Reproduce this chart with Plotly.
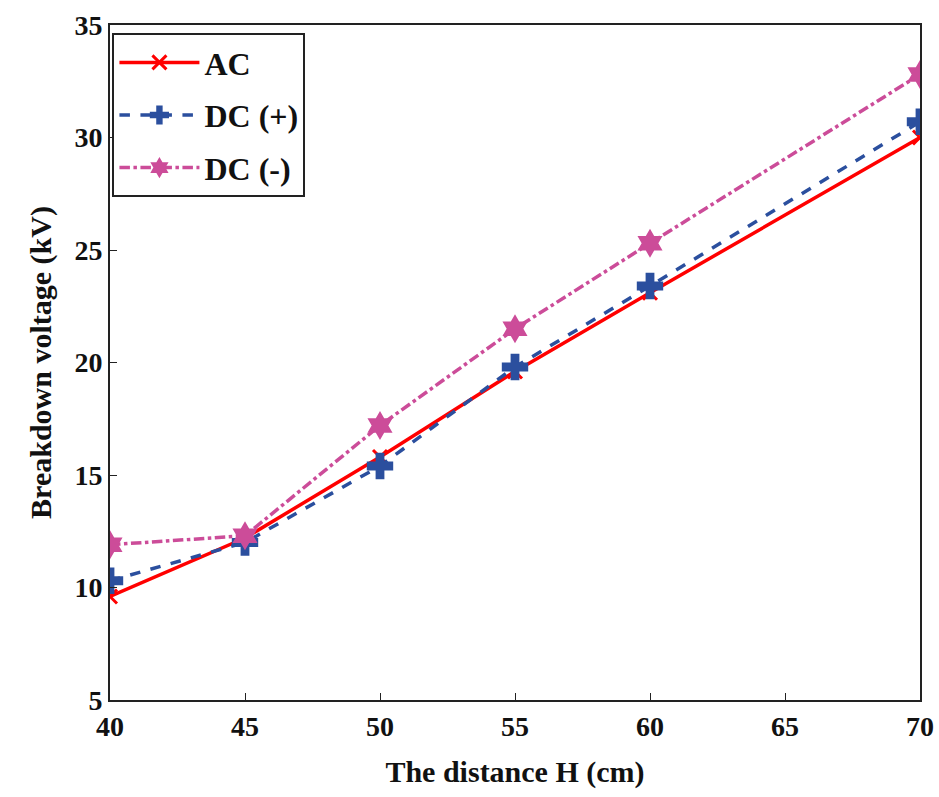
import plotly.graph_objects as go

distance = [40, 45, 50, 55, 60, 70]
ac = [9.6, 12.2, 15.8, 19.6, 23.1, 30.0]
dc_pos = [10.3, 12.0, 15.4, 19.8, 23.4, 30.7]
dc_neg = [11.9, 12.3, 17.2, 21.5, 25.3, 32.8]
names = ["AC", "DC (+)", "DC (-)"]

font_family = "Liberation Serif"

fig = go.Figure()
fig.add_trace(go.Scatter(x=distance, y=ac, name="<b>%s</b>" % names[0], legendgroup="g1", mode="lines+markers",
                         line=dict(color="#FF0000", width=3.5),
                         marker=dict(symbol="x-thin", size=14, line=dict(color="#FF0000", width=3))))
fig.add_trace(go.Scatter(x=distance, y=dc_pos, name="<b>%s</b>" % names[1], legendgroup="g2", mode="lines+markers",
                         line=dict(color="#2B4F9E", width=3.5, dash="dash"),
                         marker=dict(symbol="cross", size=22, color="#2B4F9E")))
fig.add_trace(go.Scatter(x=distance, y=dc_neg, name="<b>%s</b>" % names[2], legendgroup="g3", mode="lines+markers",
                         line=dict(color="#CC4C99", width=3.5, dash="dashdot"),
                         marker=dict(symbol="hexagram", size=22, color="#CC4C99")))

axis_common = dict(showline=True, linecolor="#222222", linewidth=2, mirror=True,
                   ticks="inside", ticklen=7, tickcolor="#222222", showgrid=False, zeroline=False,
                   automargin=False,
                   tickfont=dict(family=font_family, size=28, color="#111111"))

fig.update_layout(
    width=939, height=797,
    margin=dict(l=110, r=19, t=25, b=97),
    paper_bgcolor="white", plot_bgcolor="white",
    font=dict(family=font_family, color="#111111"),
    xaxis=dict(range=[40, 70], dtick=5,
               title=dict(text="<b>The distance H (cm)</b>", font=dict(family=font_family, size=30), standoff=20),
               **axis_common),
    yaxis=dict(range=[5, 35], dtick=5,
               title=dict(text="<b>Breakdown voltage (kV)</b>", font=dict(family=font_family, size=30), standoff=14),
               **axis_common),
    legend=dict(x=0.003, y=0.988, xanchor="left", yanchor="top",
                bordercolor="#222222", borderwidth=2, bgcolor="white",
                font=dict(family=font_family, size=32, color="#111111"),
                itemwidth=80, tracegroupgap=8, traceorder="grouped"),
)
fig.update_xaxes(tickprefix="<b>", ticksuffix="</b>")
fig.update_yaxes(tickprefix="<b>", ticksuffix="</b>")

fig.write_html("out.html")
